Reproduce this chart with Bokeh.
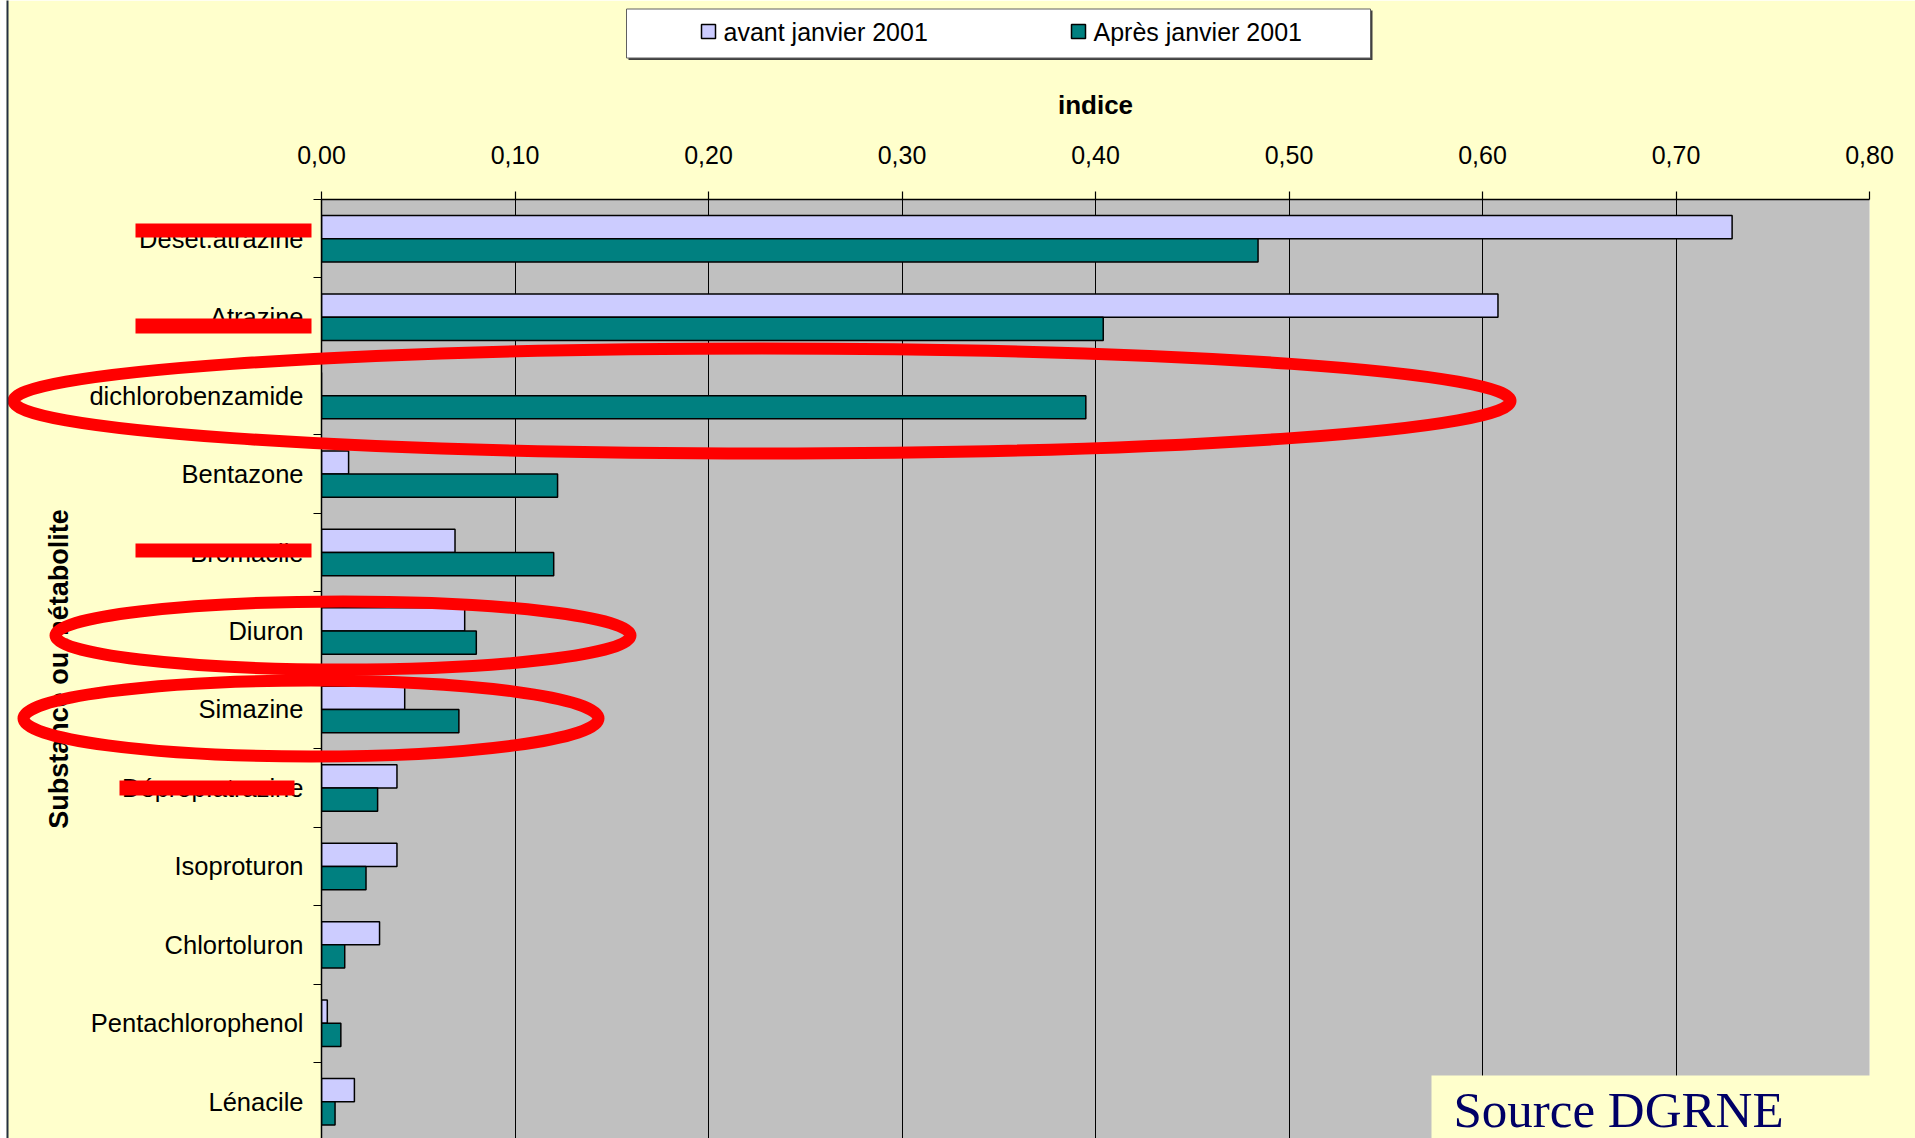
import numpy as np
from bokeh.plotting import figure
from bokeh.models import Range1d, FixedTicker, ColumnDataSource
from bokeh.core.properties import value
from bokeh.transform import dodge
from bokeh.embed import file_html
from bokeh.resources import INLINE

# ---------------- data ----------------
categories = ["Deset.atrazine", "Atrazine", "dichlorobenzamide", "Bentazone",
              "Bromacile", "Diuron", "Simazine", "Déprop.atrazine",
              "Isoproturon", "Chlortoluron", "Pentachlorophenol", "Lénacile"]
avant = [0.729, 0.608, 0.0, 0.014, 0.069, 0.074, 0.043, 0.039, 0.039, 0.030, 0.003, 0.017]
apres = [0.484, 0.404, 0.395, 0.122, 0.120, 0.080, 0.071, 0.029, 0.023, 0.012, 0.010, 0.007]
x_ticks = [0.0, 0.1, 0.2, 0.3, 0.4, 0.5, 0.6, 0.7, 0.8]
x_tick_labels = ["0,00", "0,10", "0,20", "0,30", "0,40", "0,50", "0,60", "0,70", "0,80"]
series_names = ["avant janvier 2001", "Après janvier 2001"]
series_colors = ["#CCCCFF", "#008080"]
x_title = "indice"
y_title = "Substance ou métabolite"
source_note = "Source DGRNE"

# ---------------- layout constants (page pixels) ----------------
W, H = 1915, 1138
FL, FR, FT, FB = 321, 1869, 199, H
CAT_PX = 78.46
n = len(categories)
y_end = n + 0.5
y_start = y_end - (FB - FT) / CAT_PX
X0, X1 = x_ticks[0], x_ticks[-1]


def dx(px):
    return X0 + (px - FL) * (X1 - X0) / (FR - FL)


def dy(py):
    return y_end - (py - FT) / CAT_PX


FONT = "Liberation Sans"

p = figure(width=W, height=H, x_range=Range1d(X0, X1), y_range=Range1d(y_start, y_end),
           x_axis_location="above", output_backend="svg", toolbar_location=None,
           min_border_left=FL, min_border_right=W - FR,
           min_border_top=FT, min_border_bottom=0,
           background_fill_color="#C0C0C0", border_fill_color="#FFFFCC",
           outline_line_color=None)

y_centers = [n - i for i in range(n)]
src = ColumnDataSource(dict(cat=categories, y=y_centers, avant=avant, apres=apres))
BH = 0.296
r1 = p.hbar(y=dodge("y", BH / 2), left=0, right="avant", height=BH, source=src,
            fill_color=series_colors[0], line_color="black", line_width=1.5)
r2 = p.hbar(y=dodge("y", -BH / 2), left=0, right="apres", height=BH, source=src,
            fill_color=series_colors[1], line_color="black", line_width=1.5)

# x axis (top)
xa = p.xaxis[0]
xa.ticker = FixedTicker(ticks=x_ticks)
xa.major_label_overrides = {t: l for t, l in zip(x_ticks, x_tick_labels)}
xa.axis_label = x_title
xa.axis_label_text_font = FONT
xa.axis_label_text_font_style = "bold"
xa.axis_label_text_font_size = "26px"
xa.axis_label_text_color = "black"
xa.axis_label_standoff = 23
xa.major_label_text_font = FONT
xa.major_label_text_font_size = "25px"
xa.major_label_text_color = "black"
xa.major_label_standoff = 28
xa.major_tick_out = 8
xa.major_tick_in = 0
xa.minor_tick_line_color = None
xa.axis_line_width = 1.5
xa.major_tick_line_width = 1.2

# y axis (categories)
ya = p.yaxis[0]
ya.ticker = FixedTicker(ticks=y_centers, minor_ticks=[k + 0.5 for k in range(n + 1)])
ya.major_label_overrides = {int(c): name for c, name in zip(y_centers, categories)}
ya.major_tick_out = 0
ya.major_tick_in = 0
ya.minor_tick_out = 8
ya.minor_tick_in = 0
ya.minor_tick_line_color = "black"
ya.minor_tick_line_width = 1.2
ya.axis_line_width = 1.5
ya.major_label_text_font = FONT
ya.major_label_text_font_size = "25.5px"
ya.major_label_text_color = "black"
ya.major_label_standoff = 10
ya.axis_label = y_title
ya.axis_label_text_font = FONT
ya.axis_label_text_font_style = "bold"
ya.axis_label_text_font_size = "27px"
ya.axis_label_text_color = "black"
ya.axis_label_standoff = 12

p.xgrid.ticker = FixedTicker(ticks=x_ticks)
p.xgrid.grid_line_color = "black"
p.xgrid.grid_line_width = 1
p.ygrid.visible = False

# source box + note
p.quad(left=[dx(1431)], right=[dx(W)], top=[dy(1075)], bottom=[dy(H)],
       fill_color="#FFFFCC", line_color=None, level="overlay")
p.text(x=[dx(1453)], y=[dy(1137)], text=[source_note], text_font=value("Liberation Serif"),
       text_font_size="51px", text_color="#000066", text_baseline="bottom",
       text_align="left", level="overlay")

# ---------------- legend (drawn at overlay level, above the frame) ----------------
p.quad(left=[dx(628)], right=[dx(1372)], top=[dy(10)], bottom=[dy(59.5)],
       fill_color="#404040", line_color=None, level="overlay")
p.quad(left=[dx(626)], right=[dx(1370)], top=[dy(8.5)], bottom=[dy(57.5)],
       fill_color="white", line_color="#606060", line_width=1, level="overlay")
leg_x = [701, 1071]
p.quad(left=[dx(v) for v in leg_x], right=[dx(v + 14) for v in leg_x],
       top=[dy(24)] * 2, bottom=[dy(38)] * 2, fill_color=series_colors,
       line_color="black", line_width=1.5, level="overlay")
p.text(x=[dx(v + 22) for v in leg_x], y=[dy(31)] * 2, text=series_names,
       text_font=value(FONT), text_font_size="25px", text_baseline="middle",
       text_align="left", text_color="black", level="overlay")

# ---------------- red annotations (overlay level) ----------------
strikes = dict(x0=[135, 135, 135, 119], x1=[311, 311, 311, 294],
               y0=[223, 318, 543, 780], y1=[237, 333, 557, 795])
p.quad(left=[dx(v) for v in strikes["x0"]], right=[dx(v) for v in strikes["x1"]],
       top=[dy(v) for v in strikes["y0"]], bottom=[dy(v) for v in strikes["y1"]],
       fill_color="#FF0000", line_color=None, level="overlay")
ell = dict(cx=[761.5, 342.5, 310.5], cy=[400.5, 635, 718], a=[748.5, 287.5, 287.5], b=[52.5, 34, 38])
p.ellipse(x=[dx(v) for v in ell["cx"]], y=[dy(v) for v in ell["cy"]],
          width=[2 * v for v in ell["a"]], height=[2 * v for v in ell["b"]],
          width_units="screen", height_units="screen",
          fill_color=None, line_color="#FF0000", line_width=12, level="overlay")
# left edge of the original slide
p.quad(left=[dx(0), dx(6)], right=[dx(6), dx(8)], top=[dy(0), dy(0)], bottom=[dy(H), dy(H)],
       fill_color=["white", "#243040"], line_color=None, level="overlay")

open("out.html", "w").write(file_html(p, INLINE))
